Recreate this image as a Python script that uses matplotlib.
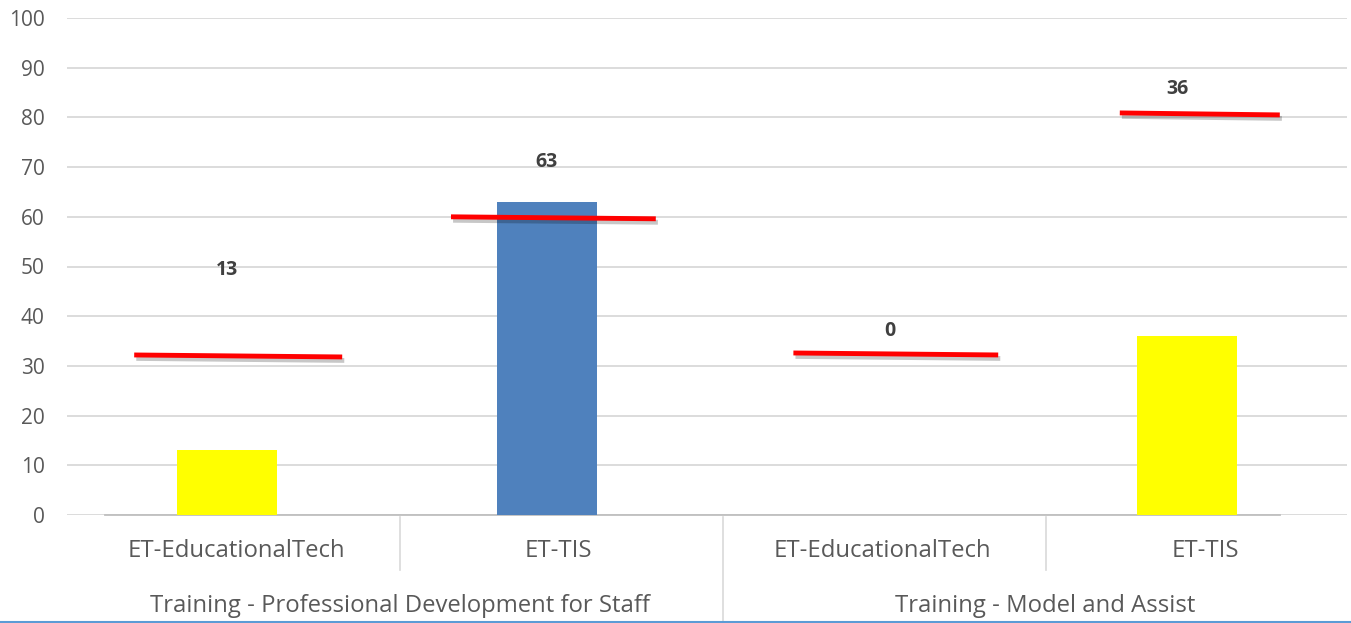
import matplotlib
matplotlib.use("Agg")
import matplotlib.pyplot as plt
import matplotlib.patheffects as pe
from matplotlib.transforms import blended_transform_factory

categories = ["ET-EducationalTech", "ET-TIS", "ET-EducationalTech", "ET-TIS"]
groups = ["Training - Professional Development for Staff", "Training - Model and Assist"]
values = [13, 63, 0, 36]
bar_colors = ["#FFFF00", "#4F81BD", "#FFFF00", "#FFFF00"]
targets = [32, 59.8, 32.4, 80.7]
label_heights = [49.3, 71, 37, 85.7]
yticks = list(range(0, 101, 10))

plt.rcParams['font.family'] = ['Open Sans', 'DejaVu Sans']

fig = plt.figure(figsize=(13.51, 6.23), dpi=100)
W, H = 1351, 623
ax = fig.add_axes([67 / W, (623 - 515) / H, 1280 / W, (515 - 18) / H])

x = list(range(len(values)))
ax.bar(x, values, width=0.31, color=bar_colors, zorder=3)

# target lines (slightly sloped, with a soft shadow)
starts = [-0.29, -0.30, -0.23, -0.21]
ends = [0.36, 0.34, 0.41, 0.29]
for xi, t, s, e in zip(x, targets, starts, ends):
    ax.plot([xi + s, xi + e], [t + 0.2, t - 0.2], color="#FF0000", lw=3.5,
            solid_capstyle="butt", zorder=4,
            path_effects=[pe.SimpleLineShadow(offset=(1.5, -2.5), alpha=0.22, shadow_color="black"),
                          pe.Normal()])

label_dx = [0, 0, 0.07, -0.03]
for xi, v, ly, dx in zip(x, values, label_heights, label_dx):
    ax.text(xi + dx, ly, str(v), ha="center", va="center", fontsize=14,
            fontweight="bold", color="#404040", zorder=5)

ax.set_xlim(-0.5, 3.5)
ax.set_ylim(0, 100)
ax.set_yticks(yticks)
ax.set_yticklabels([str(t) for t in yticks], fontsize=15, color="#595959")
ax.tick_params(axis="y", length=0, pad=16)
ax.set_xticks([])
ax.grid(axis="y", color="#D9D9D9", lw=1.3, zorder=0)
ax.set_axisbelow(True)
for sp in ax.spines.values():
    sp.set_visible(False)

# category axis line
ax.plot([-0.38, 3.29], [0, 0], color="#BFBFBF", lw=1.3, clip_on=False, zorder=2)

tr = blended_transform_factory(ax.transData, fig.transFigure)
cat_dx = [0.03, 0.035, 0.047, 0.056]
for xi, c, dx in zip(x, categories, cat_dx):
    ax.text(xi + dx, (623 - 551) / H, c, transform=tr, ha="center", va="center",
            fontsize=17.2, color="#595959")
group_x = [0.54, 2.556]
for gx, g in zip(group_x, groups):
    ax.text(gx, (623 - 606) / H, g, transform=tr, ha="center", va="center",
            fontsize=17.2, color="#595959")

# separators
sep_x = [0.54, 1.55, 2.56]
sep_bottom = [570, 623, 570]
for sx, sb in zip(sep_x, sep_bottom):
    ax.plot([sx, sx], [(623 - 517) / H, (623 - sb) / H], transform=tr, color="#D9D9D9",
            lw=1.2, clip_on=False)

# bottom border
fig.add_artist(plt.Line2D([0, 1], [1.5 / H, 1.5 / H], color="#5B9BD5", lw=1.5))

fig.savefig("out.png", dpi=100, facecolor="white")
